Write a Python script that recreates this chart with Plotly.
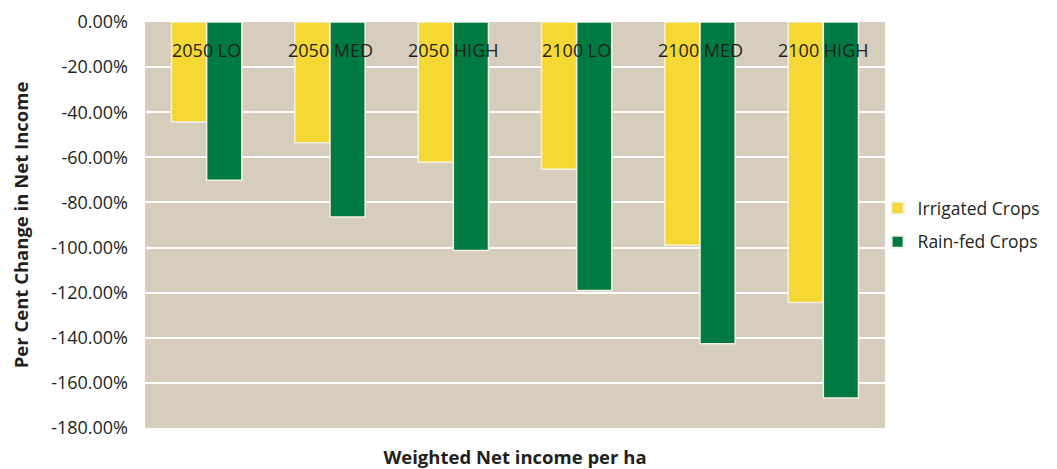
import plotly.graph_objects as go

scenarios = ["2050 LO", "2050 MED", "2050 HIGH", "2100 LO", "2100 MED", "2100 HIGH"]
irrigated = [-44.3, -53.5, -62.2, -65.3, -99.0, -124.4]
rainfed = [-70.2, -86.4, -101.3, -119.0, -142.7, -166.7]

y_ticks = [0, -20, -40, -60, -80, -100, -120, -140, -160, -180]
y_ticktext = ["0.00%", "-20.00%", "-40.00%", "-60.00%", "-80.00%", "-100.00%",
              "-120.00%", "-140.00%", "-160.00%", "-180.00%"]

font_family = "Open Sans, Lato, sans-serif"
text_color = "#231F20"

fig = go.Figure()

fig.add_trace(go.Bar(
    x=scenarios, y=irrigated, name="Irrigated Crops", legendgroup="irr",
    marker=dict(color="#F5D833", line=dict(color="#F3EFE4", width=1.5)),
))
fig.add_trace(go.Bar(
    x=scenarios, y=rainfed, name="Rain-fed Crops", legendgroup="rain",
    marker=dict(color="#007A40", line=dict(color="#F3EFE4", width=1.5)),
))

# scenario labels sit inside the plot near the top edge
for s in scenarios:
    fig.add_annotation(
        x=s, y=0.93, xref="x", yref="paper", yanchor="middle",
        text=s, showarrow=False,
        font=dict(family=font_family, size=18, color=text_color),
    )

# page body has an 8px margin, so the figure is sized to compensate
fig.update_layout(
    width=1049, height=461,
    margin=dict(l=137, r=172, t=14, b=41),
    paper_bgcolor="white",
    plot_bgcolor="#D6CDBD",
    barmode="group",
    bargap=0.43,
    bargroupgap=0.0,
    font=dict(family=font_family, color=text_color),
    legend=dict(
        x=0.99, y=0.5, xanchor="left", yanchor="middle",
        bgcolor="rgba(0,0,0,0)",
        font=dict(size=17.5, color=text_color),
        tracegroupgap=8, itemsizing="constant",
    ),
    xaxis=dict(
        showticklabels=False, showgrid=False, zeroline=False, automargin=False,
        title=dict(text="<b>Weighted Net income per ha</b>",
                   font=dict(size=18.5, color=text_color), standoff=27),
    ),
    yaxis=dict(
        range=[-180, 0], tickvals=y_ticks, ticktext=y_ticktext,
        tickfont=dict(size=18, color=text_color),
        gridcolor="white", gridwidth=1.5, zeroline=False, automargin=False,
        ticklabelstandoff=16,
        title=dict(text="<b>Per Cent Change in Net Income</b>",
                   font=dict(size=18.5, color=text_color), standoff=18),
    ),
)

fig.write_html("out.html")
